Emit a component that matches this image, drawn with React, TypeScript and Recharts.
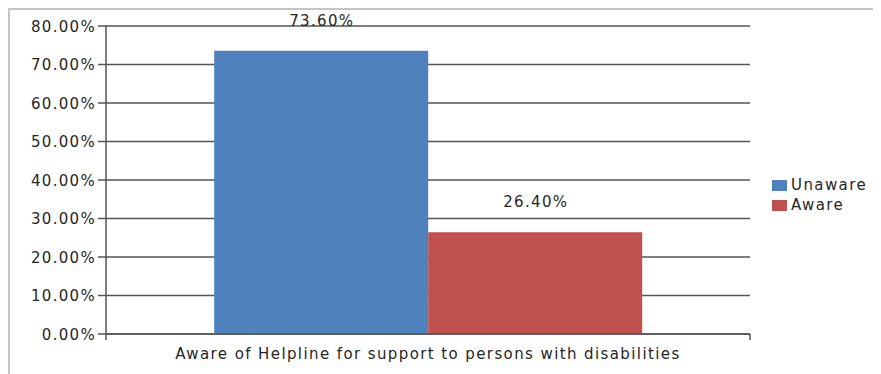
import React from "react";
import { BarChart, Bar, XAxis, YAxis, CartesianGrid, Legend, LabelList } from "recharts";

const categories = ["Aware of Helpline for support to persons with disabilities"];
const unawareValues = [0.736];
const awareValues = [0.264];
const seriesNames = ["Unaware", "Aware"];
const seriesColors = ["#4F81BD", "#C0504D"];
const yTicks = [0, 0.1, 0.2, 0.3, 0.4, 0.5, 0.6, 0.7, 0.8];

const data = categories.map((c, i) => ({
  name: c,
  unaware: unawareValues[i],
  aware: awareValues[i],
}));

const FONT = "'DejaVu Sans', sans-serif";
const TEXT = "#262626";
const LINE = "#555555";
const fmt = (v: number) => (v * 100).toFixed(2) + "%";

const XTick = (props: any) => {
  const { x, y, payload } = props;
  const off = payload && payload.offset != null ? payload.offset : 0;
  return (
    <g>
      <line x1={x - off} x2={x - off} y1={y - 6} y2={y} stroke={LINE} strokeWidth={1.5} />
      <line x1={x + off} x2={x + off} y1={y - 6} y2={y} stroke={LINE} strokeWidth={1.5} />
      <text x={x} y={y + 19} textAnchor="middle" fill={TEXT} fontSize={15} fontFamily={FONT} letterSpacing={1.4}>
        {payload.value}
      </text>
    </g>
  );
};

const YTick = (props: any) => {
  const { x, y, payload } = props;
  return (
    <text x={x} y={y} dy={5.5} textAnchor="end" fill={TEXT} fontSize={15} fontFamily={FONT} letterSpacing={1.3}>
      {fmt(payload.value)}
    </text>
  );
};

const ValueLabel = (props: any) => {
  const { x, y, width, value } = props;
  return (
    <text x={x + width / 2 + 0.6} y={y - 25} textAnchor="middle" fill={TEXT} fontSize={15} fontFamily={FONT} letterSpacing={1.3}>
      {fmt(value)}
    </text>
  );
};

const LegendContent = () => (
  <div style={{ fontFamily: FONT, fontSize: 15, color: TEXT, letterSpacing: 1.4 }}>
    {seriesNames.map((n, i) => (
      <div key={n} style={{ display: "flex", alignItems: "center", height: 20 }}>
        <span style={{ display: "inline-block", width: 15, height: 11, background: seriesColors[i] }} />
        <span style={{ marginLeft: 4, lineHeight: "20px" }}>{n}</span>
      </div>
    ))}
  </div>
);

export default function App() {
  return (
    <div
      style={{
        width: 871,
        height: 364,
        borderTop: "2px solid #c4c4c4",
        borderLeft: "2px solid #c4c4c4",
        position: "relative",
      }}
    >
      <BarChart
        width={871}
        height={364}
        data={data}
        margin={{ top: 16, right: 131, left: 0, bottom: 0 }}
        barCategoryGap="16.8%"
        barGap={0}
      >
        <CartesianGrid vertical={false} stroke={LINE} strokeWidth={1.5} />
        <XAxis
          dataKey="name"
          height={40}
          tickLine={false}
          tickSize={6}
          tickMargin={0}
          axisLine={{ stroke: LINE, strokeWidth: 1.5 }}
          tick={<XTick />}
        />
        <YAxis
          width={96}
          domain={[0, 0.8]}
          ticks={yTicks}
          interval={0}
          tickSize={8}
          tickMargin={2}
          axisLine={{ stroke: LINE, strokeWidth: 1.5 }}
          tickLine={{ stroke: LINE, strokeWidth: 1.5 }}
          tick={<YTick />}
        />
        <Legend
          layout="vertical"
          align="center"
          verticalAlign="middle"
          content={<LegendContent />}
          wrapperStyle={{ left: 762, top: 165, width: 110 }}
        />
        <Bar dataKey="unaware" name={seriesNames[0]} fill={seriesColors[0]} isAnimationActive={false}>
          <LabelList dataKey="unaware" content={<ValueLabel />} />
        </Bar>
        <Bar dataKey="aware" name={seriesNames[1]} fill={seriesColors[1]} isAnimationActive={false}>
          <LabelList dataKey="aware" content={<ValueLabel />} />
        </Bar>
      </BarChart>
    </div>
  );
}
